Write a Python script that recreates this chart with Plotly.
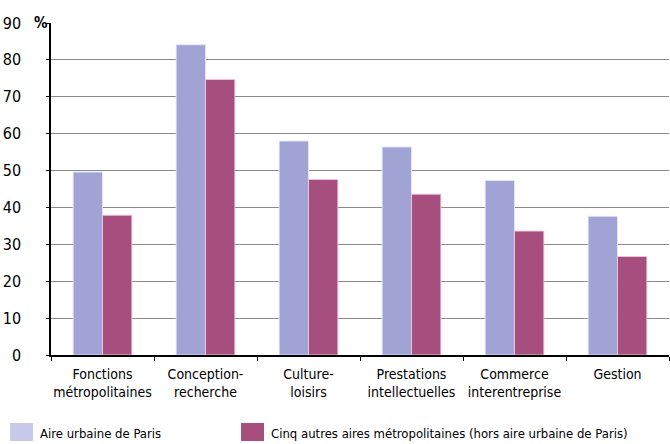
import plotly.graph_objects as go

categories = ["Fonctions<br>métropolitaines", "Conception-<br>recherche", "Culture-<br>loisirs",
              "Prestations<br>intellectuelles", "Commerce<br>interentreprise", "Gestion"]
paris = [49.6, 84.1, 58.0, 56.4, 47.3, 37.6]
autres = [37.9, 74.7, 47.6, 43.6, 33.6, 26.7]
series_names = ["Aire urbaine de Paris",
                "Cinq autres aires métropolitaines (hors aire urbaine de Paris)"]
y_ticks = [0, 10, 20, 30, 40, 50, 60, 70, 80, 90]

FONT = "DejaVu Sans Condensed, Liberation Sans Narrow, sans-serif"
C1 = "#A0A3D3"
C2 = "#A64F7F"
C1_LEG = "#C8C9E8"

fig = go.Figure()
fig.add_trace(go.Bar(x=categories, y=paris, name=series_names[0], marker_color=C1,
                     marker_line=dict(color="rgba(230,230,250,0.9)", width=1)))
fig.add_trace(go.Bar(x=categories, y=autres, name=series_names[1], marker_color=C2,
                     marker_line=dict(color="rgba(240,200,220,0.9)", width=1)))

fig.update_layout(
    width=670, height=444,
    margin=dict(l=51, r=1, t=23, b=89),
    paper_bgcolor="white", plot_bgcolor="white",
    barmode="group", bargap=0.43, bargroupgap=0,
    showlegend=False,
    font=dict(family=FONT, size=14, color="#000"),
)
fig.update_yaxes(range=[0, 90], tickvals=y_ticks, showgrid=True, gridcolor="#8a8a8a",
                 gridwidth=1, showline=True, linecolor="black", linewidth=1.5,
                 ticks="outside", ticklen=3, tickcolor="black", ticklabelstandoff=22,
                 tickfont=dict(size=16), zeroline=False)
fig.update_xaxes(showline=True, linecolor="black", linewidth=1.5, ticks="outside",
                 tickson="boundaries", ticklen=4, tickcolor="black", tickangle=0,
                 ticklabelstandoff=5, tickfont=dict(size=14))

plot_w = 670 - 51 - 1
plot_h = 444 - 23 - 89
def px_x(p):
    return (p - 51) / plot_w
def px_y(p):
    return (444 - 89 - p) / plot_h

fig.add_annotation(text="<b>%</b>", xref="paper", yref="paper", x=px_x(32), y=1.0,
                   xanchor="left", yanchor="middle", showarrow=False,
                   font=dict(size=15, family=FONT))

# legend drawn as swatches + labels
legend_items = [(10, C1_LEG, series_names[0]), (241, C2, series_names[1])]
for x0, col, name in legend_items:
    fig.add_shape(type="rect", xref="paper", yref="paper",
                  x0=px_x(x0), x1=px_x(x0 + 23), y0=px_y(441), y1=px_y(423),
                  fillcolor=col, line=dict(width=0))
    fig.add_annotation(text=name, xref="paper", yref="paper", x=px_x(x0 + 28), y=px_y(433),
                       xanchor="left", yanchor="middle", showarrow=False,
                       font=dict(size=13, family=FONT))

fig.write_html("out.html")
